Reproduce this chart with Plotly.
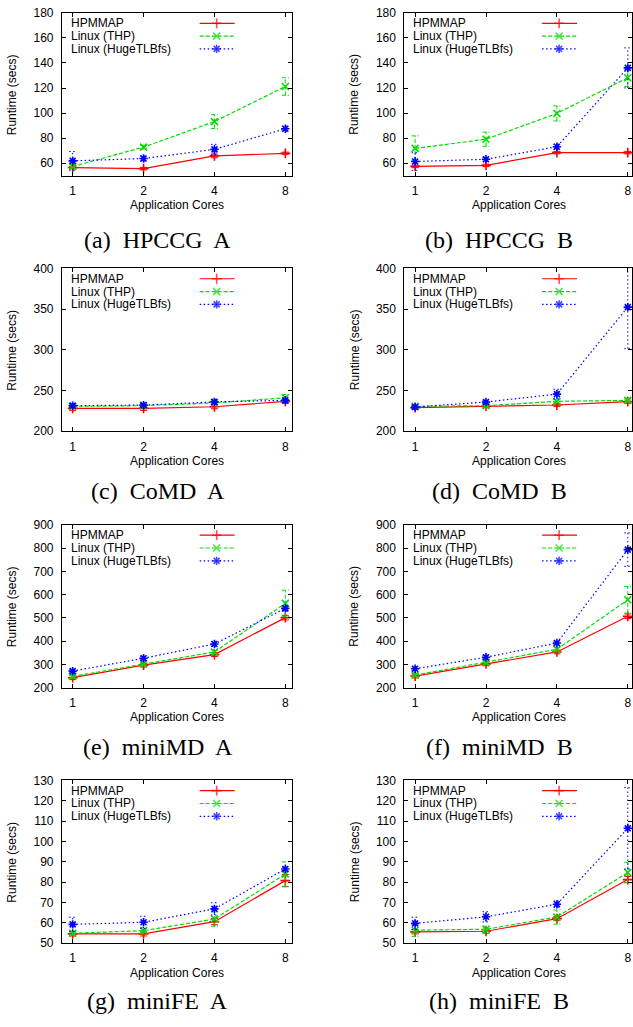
import math
import plotly.graph_objects as go

# ---------------------------------------------------------------- data
CORES = [1, 2, 4, 8]
SERIES = ["HPMMAP", "Linux (THP)", "Linux (HugeTLBfs)"]

# (a) HPCCG A
HPCCG_A_HPMMAP = [56.5, 55.6, 65.8, 67.8]
HPCCG_A_HPMMAP_ERR = [1.0, 1.0, 1.5, 1.0]
HPCCG_A_THP = [57.4, 72.8, 93.2, 121.2]
HPCCG_A_THP_ERR = [1.5, 1.5, 5.5, 7.0]
HPCCG_A_HUGE = [61.8, 63.7, 71.0, 87.5]
HPCCG_A_HUGE_ERR = [7.5, 2.0, 4.0, 2.0]

# (b) HPCCG B
HPCCG_B_HPMMAP = [57.4, 58.2, 68.4, 68.4]
HPCCG_B_HPMMAP_ERR = [1.0, 1.0, 1.0, 1.0]
HPCCG_B_THP = [71.8, 79.1, 99.7, 128.2]
HPCCG_B_THP_ERR = [10.0, 5.7, 6.0, 7.0]
HPCCG_B_HUGE = [61.3, 63.1, 73.1, 136.1]
HPCCG_B_HUGE_ERR = [7.0, 1.5, 2.0, 16.0]

# (c) CoMD A
COMD_A_HPMMAP = [228.0, 228.0, 230.0, 236.6]
COMD_A_HPMMAP_ERR = [2.5, 2.5, 2.5, 2.5]
COMD_A_THP = [230.5, 231.3, 234.6, 241.0]
COMD_A_THP_ERR = [2.0, 2.0, 2.0, 4.0]
COMD_A_HUGE = [231.3, 232.0, 236.0, 237.8]
COMD_A_HUGE_ERR = [2.5, 2.5, 3.0, 2.5]

# (d) CoMD B
COMD_B_HPMMAP = [228.9, 230.9, 232.1, 236.2]
COMD_B_HPMMAP_ERR = [2.0, 2.0, 2.0, 2.0]
COMD_B_THP = [230.5, 231.3, 236.6, 237.8]
COMD_B_THP_ERR = [2.0, 2.0, 2.0, 2.0]
COMD_B_HUGE = [229.7, 235.8, 245.5, 352.4]
COMD_B_HUGE_ERR = [2.0, 2.0, 6.0, 51.0]

# (e) miniMD A
MINIMD_A_HPMMAP = [242.6, 296.5, 342.0, 501.0]
MINIMD_A_HPMMAP_ERR = [8.0, 8.0, 8.0, 10.0]
MINIMD_A_THP = [248.3, 302.2, 353.3, 562.0]
MINIMD_A_THP_ERR = [8.0, 8.0, 10.0, 57.0]
MINIMD_A_HUGE = [271.0, 326.4, 387.4, 540.8]
MINIMD_A_HUGE_ERR = [8.0, 8.0, 10.0, 12.0]

# (f) miniMD B
MINIMD_B_HPMMAP = [249.7, 302.2, 353.3, 506.7]
MINIMD_B_HPMMAP_ERR = [8.0, 8.0, 8.0, 10.0]
MINIMD_B_THP = [254.0, 308.0, 364.7, 577.7]
MINIMD_B_THP_ERR = [8.0, 8.0, 10.0, 57.0]
MINIMD_B_HUGE = [281.0, 330.6, 391.7, 793.5]
MINIMD_B_HUGE_ERR = [8.0, 8.0, 8.0, 72.0]

# (g) miniFE A
MINIFE_A_HPMMAP = [54.5, 54.5, 60.5, 80.7]
MINIFE_A_HPMMAP_ERR = [1.0, 1.0, 1.5, 3.0]
MINIFE_A_THP = [54.8, 56.1, 61.8, 83.9]
MINIFE_A_THP_ERR = [1.0, 1.5, 3.5, 6.0]
MINIFE_A_HUGE = [59.2, 60.2, 66.8, 86.4]
MINIFE_A_HUGE_ERR = [3.5, 3.0, 3.0, 1.0]

# (h) miniFE B
MINIFE_B_HPMMAP = [55.5, 55.8, 62.0, 81.2]
MINIFE_B_HPMMAP_ERR = [1.0, 1.0, 1.0, 1.5]
MINIFE_B_THP = [56.3, 56.8, 62.8, 84.7]
MINIFE_B_THP_ERR = [3.0, 1.5, 3.5, 5.0]
MINIFE_B_HUGE = [59.7, 62.9, 69.1, 106.4]
MINIFE_B_HUGE_ERR = [3.0, 2.5, 1.5, 20.0]

CAPTIONS = ["(a)\u00a0 HPCCG\u00a0 A", "(b)\u00a0 HPCCG\u00a0 B",
            "(c)\u00a0 CoMD\u00a0 A", "(d)\u00a0 CoMD\u00a0 B",
            "(e)\u00a0 miniMD\u00a0 A", "(f)\u00a0 miniMD\u00a0 B",
            "(g)\u00a0 miniFE\u00a0 A", "(h)\u00a0 miniFE\u00a0 B"]

# y-axis ranges and ticks per benchmark row
Y_RANGES = [[50, 180], [200, 400], [200, 900], [50, 130]]
Y_TICKS = [list(range(60, 181, 20)), list(range(200, 401, 50)),
           list(range(200, 901, 100)), list(range(50, 131, 10))]

PANELS = [
    [(HPCCG_A_HPMMAP, HPCCG_A_HPMMAP_ERR), (HPCCG_A_THP, HPCCG_A_THP_ERR), (HPCCG_A_HUGE, HPCCG_A_HUGE_ERR)],
    [(HPCCG_B_HPMMAP, HPCCG_B_HPMMAP_ERR), (HPCCG_B_THP, HPCCG_B_THP_ERR), (HPCCG_B_HUGE, HPCCG_B_HUGE_ERR)],
    [(COMD_A_HPMMAP, COMD_A_HPMMAP_ERR), (COMD_A_THP, COMD_A_THP_ERR), (COMD_A_HUGE, COMD_A_HUGE_ERR)],
    [(COMD_B_HPMMAP, COMD_B_HPMMAP_ERR), (COMD_B_THP, COMD_B_THP_ERR), (COMD_B_HUGE, COMD_B_HUGE_ERR)],
    [(MINIMD_A_HPMMAP, MINIMD_A_HPMMAP_ERR), (MINIMD_A_THP, MINIMD_A_THP_ERR), (MINIMD_A_HUGE, MINIMD_A_HUGE_ERR)],
    [(MINIMD_B_HPMMAP, MINIMD_B_HPMMAP_ERR), (MINIMD_B_THP, MINIMD_B_THP_ERR), (MINIMD_B_HUGE, MINIMD_B_HUGE_ERR)],
    [(MINIFE_A_HPMMAP, MINIFE_A_HPMMAP_ERR), (MINIFE_A_THP, MINIFE_A_THP_ERR), (MINIFE_A_HUGE, MINIFE_A_HUGE_ERR)],
    [(MINIFE_B_HPMMAP, MINIFE_B_HPMMAP_ERR), (MINIFE_B_THP, MINIFE_B_THP_ERR), (MINIFE_B_HUGE, MINIFE_B_HUGE_ERR)],
]

# ---------------------------------------------------------------- style
W, H = 633, 1027
SANS = "Liberation Sans, Arial, sans-serif"
SERIF = "Liberation Serif, Times New Roman, serif"
COLORS = ["#ff0000", "#00dd00", "#0000ff"]
DASHES = ["solid", "4px,2px", "1.5px,2.5px"]
SYMBOLS = ["cross-thin", "x-thin", "asterisk-open"]

COL_LEFT = [62, 405]
COL_RIGHT = [292, 633]
ROW_TOP = [6, 265, 525, 784]
PLOT_H = 165
CAPTION_Y = [236, 491, 750, 1008]
CAPTION_X = [158, 500]
PX_PER_DECADE = 230 / math.log10(8.5 / 0.9)
CAP_FACTOR = 10 ** (3.5 / PX_PER_DECADE)   # half-width of error-bar caps


def px(x):
    return x / W


def py(y):
    return 1 - y / H


def error_bar_path(xs, ys, es):
    """Vertical bars with short caps, as one polyline broken by None."""
    bx, by = [], []
    for x, y, e in zip(xs, ys, es):
        lo, hi = y - e, y + e
        bx += [x, x, None, x / CAP_FACTOR, x * CAP_FACTOR, None,
               x / CAP_FACTOR, x * CAP_FACTOR, None]
        by += [lo, hi, None, lo, lo, None, hi, hi, None]
    return bx, by


fig = go.Figure()
annotations = []
layout_axes = {}

for i, panel in enumerate(PANELS):
    row, col = divmod(i, 2)
    n = i + 1
    xa = "x" if n == 1 else f"x{n}"
    ya = "y" if n == 1 else f"y{n}"
    xkey = "xaxis" if n == 1 else f"xaxis{n}"
    ykey = "yaxis" if n == 1 else f"yaxis{n}"

    left, right = COL_LEFT[col], COL_RIGHT[col]
    top = ROW_TOP[row]
    bottom = top + PLOT_H
    xlo = math.log10(0.9)
    xhi = xlo + (right - left) / PX_PER_DECADE

    for k, (vals, errs) in enumerate(panel):
        ex, ey = error_bar_path(CORES, vals, errs)
        fig.add_trace(go.Scatter(
            x=ex, y=ey, xaxis=xa, yaxis=ya, mode="lines", showlegend=False,
            hoverinfo="skip", connectgaps=False,
            line=dict(color=COLORS[k], width=1, dash=DASHES[k]),
        ))
        fig.add_trace(go.Scatter(
            x=CORES, y=vals, xaxis=xa, yaxis=ya, mode="lines+markers",
            name=SERIES[k], showlegend=False,
            line=dict(color=COLORS[k], width=1.2, dash=DASHES[k]),
            marker=dict(symbol=SYMBOLS[k], size=7, color=COLORS[k],
                        line=dict(width=1.6, color=COLORS[k])),
        ))

    axis_common = dict(showgrid=False, zeroline=False, showline=True,
                       linecolor="#000000", linewidth=1, mirror="ticks",
                       ticks="inside", ticklen=4, tickwidth=1, tickcolor="#000000",
                       tickfont=dict(family=SANS, size=12, color="#000000"))
    layout_axes[xkey] = dict(
        axis_common, type="log", range=[xlo, xhi], anchor=ya,
        domain=[px(left), px(right)], tickvals=CORES,
        ticktext=[str(c) for c in CORES], ticklabelstandoff=4)
    layout_axes[ykey] = dict(
        axis_common, range=Y_RANGES[row], anchor=xa,
        domain=[py(bottom), py(top)], tickvals=Y_TICKS[row],
        ticklabelstandoff=5)

    # axis titles
    annotations.append(dict(
        x=px((left + right + (2 if col else 0)) / 2), y=py(bottom + 30),
        xref="paper", yref="paper", text="Application Cores", showarrow=False,
        xanchor="center", yanchor="middle",
        font=dict(family=SANS, size=12, color="#000000")))
    annotations.append(dict(
        x=px(left - 50), y=py((top + bottom) / 2),
        xref="paper", yref="paper", text="Runtime (secs)", showarrow=False,
        textangle=-90, xanchor="center", yanchor="middle",
        font=dict(family=SANS, size=12, color="#000000")))
    # sub-figure caption
    annotations.append(dict(
        x=px(CAPTION_X[col]), y=py(CAPTION_Y[row]),
        xref="paper", yref="paper", text=CAPTIONS[i], showarrow=False,
        xanchor="center", yanchor="middle",
        font=dict(family=SERIF, size=24, color="#000000")))

    # key: label on the left, line sample on the right
    for k in range(3):
        yk = top + 10.5 + 13 * k
        annotations.append(dict(
            x=px(left + 7), y=py(yk), xref="paper", yref="paper",
            text=SERIES[k], showarrow=False, xanchor="left", yanchor="middle",
            font=dict(family=SANS, size=12, color="#000000")))
        fig.add_trace(go.Scatter(
            x=[left + 138, left + 155, left + 173], y=[yk, yk, yk],
            xaxis="x9", yaxis="y9", mode="lines+markers", showlegend=False,
            hoverinfo="skip",
            line=dict(color=COLORS[k], width=1.2, dash=DASHES[k]),
            marker=dict(symbol=SYMBOLS[k], size=[0, 7, 0], color=COLORS[k],
                        line=dict(width=1.6, color=COLORS[k])),
        ))

# full-page pixel frame used only for the key samples
layout_axes["xaxis9"] = dict(domain=[0, 1], range=[0, W], visible=False,
                             anchor="y9", showgrid=False, zeroline=False)
layout_axes["yaxis9"] = dict(domain=[0, 1], range=[H, 0], visible=False,
                             anchor="x9", showgrid=False, zeroline=False)

fig.update_layout(
    width=W, height=H, margin=dict(l=0, r=0, t=0, b=0),
    paper_bgcolor="#ffffff", plot_bgcolor="rgba(0,0,0,0)",
    showlegend=False, annotations=annotations, **layout_axes)

fig.write_html("out.html")
